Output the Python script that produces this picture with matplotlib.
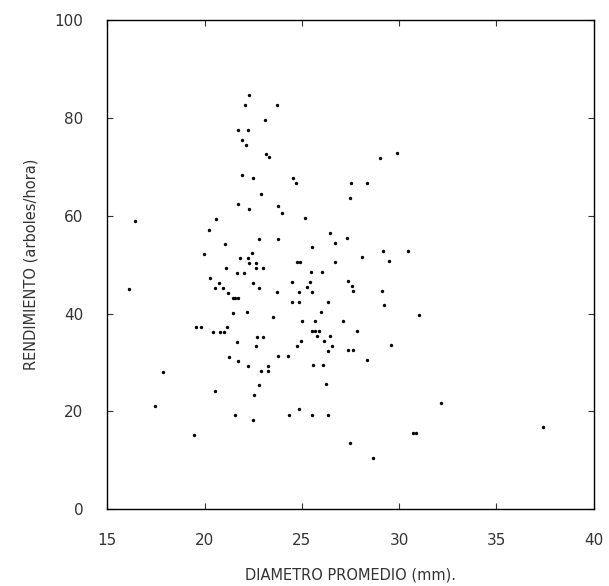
import matplotlib.pyplot as plt

# diametro promedio (mm) y rendimiento (arboles/hora)
diametro = [
    22.30, 22.08, 23.72, 23.09, 21.73, 22.25, 21.94, 22.11, 23.15, 23.32,
    21.92, 22.49, 22.88, 21.73, 22.27, 23.78, 20.57, 16.42, 20.21, 22.78,
    23.80, 21.04, 19.97, 22.44, 21.80, 22.21,
    22.30, 22.63, 21.09, 22.66, 22.98, 21.65, 22.01, 20.28, 20.73, 22.47,
    20.55, 20.96, 22.79, 16.14, 21.19, 23.73, 21.45, 21.55, 21.72, 21.45,
    22.18, 23.50, 19.56, 19.80, 21.14, 20.45, 20.79, 21.01, 21.67, 22.68,
    22.98, 22.63, 21.26, 21.72, 23.80, 22.25, 22.90, 23.24, 23.26, 17.89,
    22.78, 20.52, 22.54, 17.48, 21.55, 22.47, 19.46,
    29.89, 29.04, 24.54, 24.68, 27.55, 28.33, 27.45, 23.97, 25.14, 26.44,
    27.32, 26.69, 25.50, 29.19, 30.47, 28.09,
    24.75, 24.90, 26.73, 29.48, 25.46, 26.03, 24.49, 25.43, 25.26, 27.39,
    27.60, 27.62, 24.85, 25.50, 29.14, 24.52, 24.85, 26.37, 29.24, 26.01,
    31.00, 25.00, 25.70, 27.10, 25.50, 25.70, 25.90, 27.84, 25.78, 26.45,
    24.96, 26.16, 24.76, 26.57, 26.35, 27.37, 27.63, 29.56, 24.30, 28.35,
    25.55, 26.11, 26.23, 32.16, 24.85, 24.33, 25.51, 26.35, 30.70, 30.85,
    27.45, 28.64, 37.37,
]
rendimiento = [
    84.6, 82.6, 82.7, 79.6, 77.5, 77.5, 75.5, 74.4, 72.5, 71.9,
    68.4, 67.6, 64.5, 62.4, 61.4, 61.9, 59.3, 59.0, 57.1, 55.3,
    55.3, 54.3, 52.2, 52.3, 51.4, 51.4,
    50.3, 50.3, 49.2, 49.3, 49.3, 48.3, 48.3, 47.3, 46.3, 46.3,
    45.2, 45.2, 45.3, 45.0, 44.2, 44.3, 43.2, 43.2, 43.2, 40.2,
    40.3, 39.3, 37.2, 37.2, 37.2, 36.2, 36.2, 36.2, 34.2, 35.3,
    35.3, 33.3, 31.1, 30.3, 31.3, 29.3, 28.3, 29.3, 28.3, 28.0,
    25.4, 24.2, 23.3, 21.0, 19.3, 18.2, 15.2,
    72.9, 71.8, 67.7, 66.6, 66.7, 66.7, 63.7, 60.5, 59.5, 56.5,
    55.5, 54.5, 53.5, 52.7, 52.7, 51.6,
    50.5, 50.5, 50.5, 50.7, 48.4, 48.4, 46.4, 46.4, 45.4, 46.6,
    45.6, 44.5, 44.3, 44.3, 44.5, 42.4, 42.4, 42.4, 41.7, 40.4,
    39.6, 38.4, 38.4, 38.5, 36.4, 36.4, 36.4, 36.5, 35.4, 35.5,
    34.4, 34.4, 33.4, 33.4, 32.4, 32.5, 32.5, 33.6, 31.4, 30.6,
    29.4, 29.4, 25.6, 21.7, 20.4, 19.3, 19.3, 19.3, 15.6, 15.6,
    13.5, 10.5, 16.9,
]

xticks = [15, 20, 25, 30, 35, 40]
yticks = [0, 20, 40, 60, 80, 100]

fig = plt.figure(figsize=(6.09, 5.86), dpi=100)
ax = fig.add_axes([0.176, 0.131, 0.799, 0.835])

ax.scatter(diametro, rendimiento, s=6, color='black', marker='o', linewidths=0)

ax.set_xlim(15, 40)
ax.set_ylim(0, 100)
ax.set_xticks(xticks)
ax.set_yticks(yticks)
ax.tick_params(direction='in', length=4, width=0.8, top=True, right=True,
               labelsize=11, colors='#333333')
ax.tick_params(axis='x', pad=17)
ax.tick_params(axis='y', pad=17)
for s in ax.spines.values():
    s.set_linewidth(1.0)

ax.set_xlabel('DIAMETRO PROMEDIO (mm).', fontsize=10.5, color='#333333', labelpad=14)
ax.set_ylabel('RENDIMIENTO (arboles/hora)', fontsize=10.5, color='#333333', labelpad=12)

fig.savefig('out.png', dpi=100)
